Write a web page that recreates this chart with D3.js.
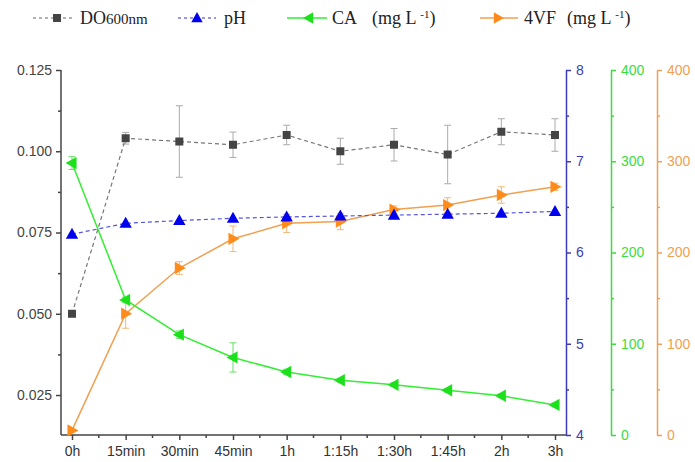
<!DOCTYPE html>
<html><head><meta charset="utf-8">
<script src="https://cdn.jsdelivr.net/npm/d3@7"></script>
<style>body{margin:0;background:#fff}svg{display:block}</style>
</head><body>
<svg id="c" width="695" height="462"></svg>
<script>
const categories = ["0h","15min","30min","45min","1h","1:15h","1:30h","1:45h","2h","3h"];
const doValues = [0.050,0.104,0.103,0.102,0.105,0.100,0.102,0.099,0.106,0.105];
const doErrors = [0,0.0018,0.011,0.0039,0.003,0.004,0.005,0.009,0.004,0.005];
const phValues = [6.20,6.32,6.35,6.375,6.39,6.40,6.41,6.42,6.43,6.45];
const caValues = [298,148,110,85,69,60,55,49,43,33];
const caErrors = [7,3,4,16,3,2,2,2,2,2];
const vfValues = [5,133,183,215,232,234,247,252,263,272];
const vfErrors = [0,16,7,14,10,9,4,8,9,4];
const leftTicks = [0.025,0.050,0.075,0.100,0.125];
const phTicks = [4,5,6,7,8];
const concTicks = [0,100,200,300,400];

(function(){
const svg = d3.select("#c");
const pTop=70, pBottom=435, pLeft=61, pRight=566;
const x = d3.scalePoint().domain(categories).range([72,555]);
const yL = d3.scaleLinear().domain([0.0127,0.125]).range([pBottom,pTop]);
const yPh = d3.scaleLinear().domain([4,8]).range([pBottom,pTop]);
const yCA = d3.scaleLinear().domain([0,400]).range([pBottom,pTop]);
const yVF = d3.scaleLinear().domain([0,400]).range([pBottom,pTop]);

const font = "'Liberation Sans', Arial, sans-serif";
function styleAxis(g,color){
  g.selectAll("path,line").attr("stroke",color).attr("stroke-width",1.5);
  g.selectAll("text").attr("fill",color).style("font-family",font).style("font-size","14px");
}
const gL = svg.append("g").attr("transform",`translate(${pLeft},0)`);
gL.call(d3.axisLeft(yL).tickValues(leftTicks).tickFormat(d3.format(".3f")).tickSize(5).tickSizeOuter(0).tickPadding(4));
gL.append("g").call(d3.axisLeft(yL).tickValues([0.0375,0.0625,0.0875,0.1125]).tickFormat("").tickSize(3).tickSizeOuter(0)).select(".domain").remove();
styleAxis(gL,"#444");
gL.select(".domain").attr("d",`M0,${pTop}V${pBottom}`);
const gP = svg.append("g").attr("transform",`translate(${pRight},0)`);
gP.call(d3.axisRight(yPh).tickValues(phTicks).tickFormat(d3.format("d")).tickSize(5).tickSizeOuter(0).tickPadding(5));
gP.append("g").call(d3.axisRight(yPh).tickValues([4.5,5.5,6.5,7.5]).tickFormat("").tickSize(3).tickSizeOuter(0)).select(".domain").remove();
styleAxis(gP,"#3c3cb4");
const gC = svg.append("g").attr("transform",`translate(611,0)`);
gC.call(d3.axisRight(yCA).tickValues(concTicks).tickSize(5).tickSizeOuter(0).tickPadding(5));
gC.append("g").call(d3.axisRight(yCA).tickValues([50,150,250,350]).tickFormat("").tickSize(3).tickSizeOuter(0)).select(".domain").remove();
styleAxis(gC,"#3ddc3d");
const gV = svg.append("g").attr("transform",`translate(657,0)`);
gV.call(d3.axisRight(yVF).tickValues(concTicks).tickSize(5).tickSizeOuter(0).tickPadding(5));
gV.append("g").call(d3.axisRight(yVF).tickValues([50,150,250,350]).tickFormat("").tickSize(3).tickSizeOuter(0)).select(".domain").remove();
styleAxis(gV,"#f0a050");
const gX = svg.append("g").attr("transform",`translate(0,${pBottom})`);
gX.call(d3.axisBottom(x).tickSize(5).tickSizeOuter(0).tickPadding(6));
const mids = categories.slice(0,-1).map((c,i)=>(x(c)+x(categories[i+1]))/2);
gX.selectAll(".minor").data(mids).enter().append("line").attr("class","minor")
  .attr("x1",d=>d).attr("x2",d=>d).attr("y1",0).attr("y2",3);
styleAxis(gX,"#444");
gX.selectAll("text").attr("fill","#333");
gX.select(".domain").attr("d",`M${pLeft},0H${pRight}`);

const lineDO = d3.line().x((d,i)=>x(categories[i])).y(d=>yL(d));
const linePH = d3.line().x((d,i)=>x(categories[i])).y(d=>yPh(d));
const lineCA = d3.line().x((d,i)=>x(categories[i])).y(d=>yCA(d));
const lineVF = d3.line().x((d,i)=>x(categories[i])).y(d=>yVF(d));

function errBars(vals,errs,scale,color){
  const g = svg.append("g").attr("stroke",color).attr("stroke-width",1);
  vals.forEach((v,i)=>{
    if(!errs[i]) return;
    const cx=x(categories[i]), y1=scale(v-errs[i]), y2=scale(v+errs[i]);
    g.append("line").attr("x1",cx).attr("x2",cx).attr("y1",y1).attr("y2",y2);
    g.append("line").attr("x1",cx-3.5).attr("x2",cx+3.5).attr("y1",y1).attr("y2",y1);
    g.append("line").attr("x1",cx-3.5).attr("x2",cx+3.5).attr("y1",y2).attr("y2",y2);
  });
}
errBars(doValues,doErrors,yL,"#aaa");
errBars(caValues,caErrors,yCA,"#66dd66");
errBars(vfValues,vfErrors,yVF,"#f3b878");

svg.append("path").attr("d",lineVF(vfValues)).attr("fill","none").attr("stroke","#f0a050").attr("stroke-width",1.5);
svg.append("path").attr("d",lineCA(caValues)).attr("fill","none").attr("stroke","#33ee33").attr("stroke-width",1.5);
svg.append("path").attr("d",lineDO(doValues)).attr("fill","none").attr("stroke","#777").attr("stroke-width",1.2).attr("stroke-dasharray","4,3");
svg.append("path").attr("d",linePH(phValues)).attr("fill","none").attr("stroke","#5555dd").attr("stroke-width",1.2).attr("stroke-dasharray","4,3");

function tri(dir,s){
  if(dir==="up") return `M0,${-s}L${s*0.95},${s*0.7}L${-s*0.95},${s*0.7}Z`;
  if(dir==="left") return `M${-s},0L${s*0.7},${-s*0.95}L${s*0.7},${s*0.95}Z`;
  return `M${s},0L${-s*0.7},${-s*0.95}L${-s*0.7},${s*0.95}Z`;
}
svg.append("g").selectAll("path").data(vfValues).enter().append("path")
  .attr("d",tri("right",6.5)).attr("fill","#ff8c1a")
  .attr("transform",(d,i)=>`translate(${x(categories[i])},${yVF(d)})`);
svg.append("g").selectAll("path").data(caValues).enter().append("path")
  .attr("d",tri("left",6.5)).attr("fill","#1de01d")
  .attr("transform",(d,i)=>`translate(${x(categories[i])},${yCA(d)})`);
svg.append("g").selectAll("rect").data(doValues).enter().append("rect")
  .attr("x",(d,i)=>x(categories[i])-4).attr("y",d=>yL(d)-4).attr("width",8).attr("height",8).attr("fill","#444");
svg.append("g").selectAll("path").data(phValues).enter().append("path")
  .attr("d",tri("up",6.5)).attr("fill","#0000ee")
  .attr("transform",(d,i)=>`translate(${x(categories[i])},${yPh(d)})`);

const serif = "'Liberation Serif','Times New Roman',serif";
const lg = svg.append("g");
function legItem(x1,x2,mx,color,dash,marker,mcolor){
  lg.append("line").attr("x1",x1).attr("x2",x2).attr("y1",18).attr("y2",18).attr("stroke",color).attr("stroke-width",1.5).attr("stroke-dasharray",dash);
  if(marker==="rect") lg.append("rect").attr("x",mx-4).attr("y",14).attr("width",8).attr("height",8).attr("fill",mcolor);
  else lg.append("path").attr("d",tri(marker,6)).attr("fill",mcolor).attr("transform",`translate(${mx},18)`);
}
legItem(33,75,57,"#999","3,3","rect","#444");
legItem(178,216,197,"#7777dd","3,3","up","#0000ee");
legItem(287,327,309,"#33ee33",null,"left","#1de01d");
legItem(480,518,498,"#f0a050",null,"right","#ff8c1a");
const fs = "18px";
const t1 = lg.append("text").attr("x",80).attr("y",24).attr("fill","#222").style("font-family",serif).style("font-size",fs);
t1.append("tspan").text("DO");
t1.append("tspan").style("font-size","15px").text("600nm");
lg.append("text").attr("x",224).attr("y",24).attr("fill","#222").style("font-family",serif).style("font-size",fs).text("pH");
const t3 = lg.append("text").attr("x",332).attr("y",24).attr("fill","#222").style("font-family",serif).style("font-size",fs);
t3.append("tspan").text("CA");
t3.append("tspan").attr("x",372).text("(mg L ");
t3.append("tspan").attr("dy",-6).style("font-size","11px").text("-1");
t3.append("tspan").attr("dy",6).text(")");
const t4 = lg.append("text").attr("x",524).attr("y",24).attr("fill","#222").style("font-family",serif).style("font-size",fs);
t4.append("tspan").text("4VF");
t4.append("tspan").attr("x",567).text("(mg L ");
t4.append("tspan").attr("dy",-6).style("font-size","11px").text("-1");
t4.append("tspan").attr("dy",6).text(")");
})();
</script>
</body></html>
